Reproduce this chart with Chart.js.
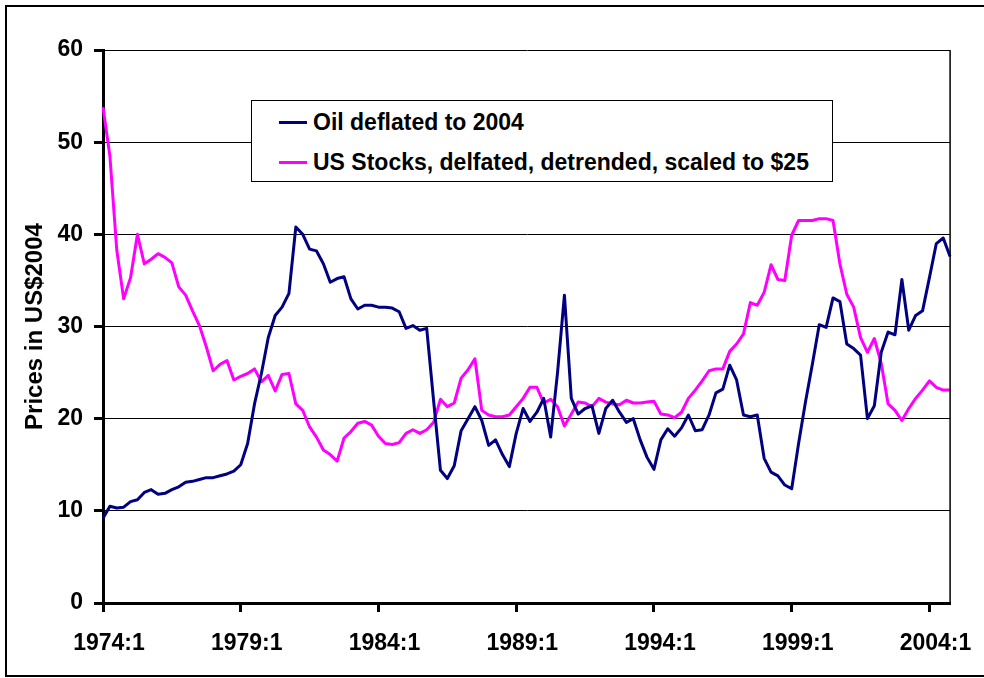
<!DOCTYPE html>
<html lang="en">
<head>
  <meta charset="UTF-8" />
  <title>Oil vs US Stocks, deflated</title>
  <script src="https://cdn.jsdelivr.net/npm/chart.js"></script>
  <style>
    body { margin: 0; background: #fff; }
    #wrap { position: relative; width: 984px; height: 678px; overflow: hidden; }
    #frame { position: absolute; left: 5px; top: 5px; width: 1000px; height: 672px; border: 2px solid #000; box-sizing: border-box; }
    #chart { position: absolute; left: 0; top: 0; }
    #legend { position: absolute; left: 251px; top: 100px; width: 582px; height: 82px; border: 1px solid #000; background: #fff; box-sizing: border-box; }
    .item { position: absolute; left: 27px; height: 26px; display: flex; align-items: center; white-space: nowrap;
            font: bold 23px 'Liberation Sans', Arial, sans-serif; color: #000; }
    .item .sw { width: 28px; height: 3px; margin-right: 6px; }
  </style>
</head>
<body>
  <div id="wrap">
    <div id="frame"></div>
    <canvas id="chart" width="984" height="678"></canvas>
    <div id="legend">
      <div class="item" style="top: 8px;"><span class="sw" style="background:#000080"></span>Oil deflated to 2004</div>
      <div class="item" style="top: 48px;"><span class="sw" style="background:#ff00ff"></span>US Stocks, delfated, detrended, scaled to $25</div>
    </div>
  </div>

  <script>
    // quarters 1974:1 .. 2004:4
    const quarters = [];
    for (let y = 1974; y <= 2004; y++) {
      for (let q = 1; q <= 4; q++) quarters.push(y + ':' + q);
    }

    const oil = [
      9.2, 10.5, 10.3, 10.4, 11.0, 11.2, 12.0, 12.3, 11.8, 11.9,
      12.3, 12.6, 13.1, 13.2, 13.4, 13.6, 13.6, 13.8, 14.0, 14.3,
      15.0, 17.3, 21.6, 24.9, 28.8, 31.2, 32.1, 33.6, 40.8, 40.0,
      38.4, 38.2, 36.8, 34.8, 35.2, 35.4, 33.0, 31.9, 32.3, 32.3,
      32.1, 32.1, 32.0, 31.6, 29.8, 30.1, 29.6, 29.8, 22.0, 14.4,
      13.5, 14.9, 18.7, 20.0, 21.3, 19.8, 17.1, 17.7, 16.1, 14.8,
      18.4, 21.1, 19.7, 20.7, 22.2, 18.0, 25.0, 33.4, 22.2, 20.5,
      21.1, 21.4, 18.4, 21.1, 22.0, 20.7, 19.6, 20.0, 17.7, 15.8,
      14.5, 17.7, 18.9, 18.1, 19.0, 20.4, 18.7, 18.8, 20.4, 22.8,
      23.2, 25.8, 24.2, 20.4, 20.2, 20.4, 15.7, 14.2, 13.8, 12.8,
      12.4, 17.3, 21.8, 25.9, 30.2, 29.9, 33.1, 32.7, 28.1, 27.6,
      26.9, 20.0, 21.4, 27.2, 29.4, 29.1, 35.1, 29.6, 31.2, 31.7,
      35.3, 39.0, 39.6, 37.6
    ];

    const stocks = [
      53.8, 48.5, 38.3, 33.0, 35.3, 40.0, 36.8, 37.3, 37.9, 37.5,
      36.9, 34.3, 33.4, 31.7, 30.1, 27.8, 25.2, 25.9, 26.3, 24.2,
      24.6, 24.9, 25.4, 24.0, 24.7, 23.0, 24.8, 24.9, 21.6, 20.9,
      19.1, 18.0, 16.6, 16.1, 15.4, 17.9, 18.6, 19.5, 19.7, 19.3,
      18.1, 17.3, 17.2, 17.4, 18.4, 18.8, 18.4, 18.8, 19.6, 22.1,
      21.3, 21.7, 24.4, 25.3, 26.5, 20.9, 20.4, 20.2, 20.2, 20.4,
      21.3, 22.2, 23.4, 23.4, 21.7, 22.1, 21.3, 19.2, 20.5, 21.8,
      21.7, 21.3, 22.2, 21.8, 21.6, 21.5, 22.0, 21.7, 21.7, 21.8,
      21.9, 20.5, 20.4, 20.1, 20.7, 22.2, 23.1, 24.1, 25.2, 25.4,
      25.4, 27.3, 28.1, 29.2, 32.6, 32.3, 33.7, 36.7, 35.1, 35.0,
      39.9, 41.5, 41.5, 41.5, 41.7, 41.7, 41.5, 36.8, 33.5, 32.1,
      28.8, 27.2, 28.7, 26.0, 21.6, 20.9, 19.8, 21.1, 22.2, 23.1,
      24.1, 23.4, 23.1, 23.1
    ];

    const labelEvery = 20; // a label every 5 years
    const fontFam = "'Liberation Sans', Arial, sans-serif";

    // thin right edge of the plot area
    const plotFrame = {
      id: 'plotFrame',
      afterDraw(chart) {
        const { ctx, chartArea: a } = chart;
        ctx.save();
        ctx.strokeStyle = '#000';
        ctx.lineWidth = 1.5;
        ctx.beginPath();
        ctx.moveTo(a.right, a.top);
        ctx.lineTo(a.right, a.bottom);
        ctx.stroke();
        ctx.restore();
      }
    };

    new Chart(document.getElementById('chart'), {
      type: 'line',
      data: {
        labels: quarters,
        datasets: [
          { label: 'Oil deflated to 2004', data: oil, borderColor: '#000080', borderWidth: 3, pointRadius: 0, tension: 0, borderJoinStyle: 'round', order: 1 },
          { label: 'US Stocks, delfated, detrended, scaled to $25', data: stocks, borderColor: '#ff00ff', borderWidth: 3, pointRadius: 0, tension: 0, borderJoinStyle: 'round', order: 2 }
        ]
      },
      options: {
        responsive: false,
        animation: false,
        layout: { padding: { top: 50, right: 31, left: 0, bottom: 0 } },
        plugins: { legend: { display: false }, tooltip: { enabled: false } },
        scales: {
          x: {
            type: 'category',
            ticks: {
              autoSkip: false, maxRotation: 0, color: '#000', padding: 18, labelOffset: 6,
              font: { family: fontFam, size: 23, weight: 'bold' },
              callback: (v, i) => (i % labelEvery === 0 ? quarters[i] : null)
            },
            grid: { drawOnChartArea: false, tickLength: 9, tickWidth: 3, tickColor: '#000' },
            border: { display: true, color: '#000', width: 3 },
            afterFit(s) { s.height = 75; }
          },
          y: {
            min: 0, max: 60,
            ticks: { stepSize: 10, color: '#000', padding: 11, font: { family: fontFam, size: 23, weight: 'bold' } },
            grid: { color: '#000', lineWidth: 1, tickLength: 9, tickWidth: 3, tickColor: '#000' },
            border: { display: true, color: '#000', width: 3 },
            title: { display: true, text: 'Prices in US$2004', color: '#000', padding: { top: 21, bottom: 0 }, font: { family: fontFam, size: 24, weight: 'bold' } },
            afterFit(s) { s.width = 103; }
          }
        }
      },
      plugins: [plotFrame]
    });
  </script>
</body>
</html>
